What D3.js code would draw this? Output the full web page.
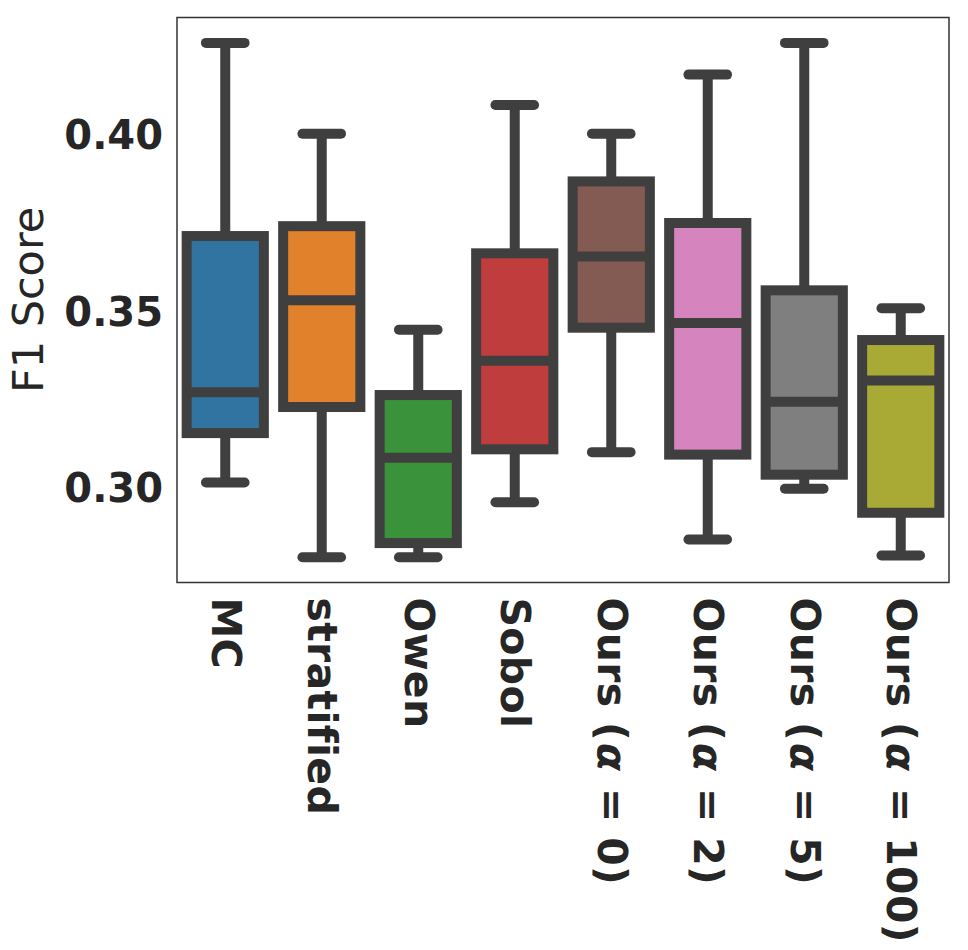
<!DOCTYPE html>
<html>
<head>
<meta charset="utf-8">
<script src="https://cdn.jsdelivr.net/npm/d3@7"></script>
<style>
  html, body { margin: 0; padding: 0; background: #fff; }
  svg { display: block; }
  text { font-family: "DejaVu Sans", sans-serif; fill: #262626; }
</style>
</head>
<body>
<div id="chart"></div>
<script>
// ---- data ----
const categories = ["MC", "stratified", "Owen", "Sobol",
  "Ours (α = 0)", "Ours (α = 2)", "Ours (α = 5)", "Ours (α = 100)"];
const whiskerLow  = [0.3014, 0.2802, 0.2802, 0.2958, 0.3100, 0.2852, 0.2996, 0.2807];
const q1          = [0.3154, 0.3228, 0.2842, 0.3108, 0.3453, 0.3093, 0.3036, 0.2928];
const medians     = [0.3270, 0.3531, 0.3084, 0.3359, 0.3655, 0.3466, 0.3243, 0.3303];
const q3          = [0.3713, 0.3741, 0.3262, 0.3664, 0.3868, 0.3750, 0.3559, 0.3418];
const whiskerHigh = [0.4261, 0.4003, 0.3447, 0.4085, 0.4003, 0.4171, 0.4261, 0.3508];
const boxColors   = ["#3274a1", "#e1812c", "#3a923a", "#c03d3e",
  "#845b53", "#d684bd", "#7f7f7f", "#a9aa35"];
const yTicks = [0.30, 0.35, 0.40];
const yLabel = "F1 Score";

// ---- layout ----
const W = 968, H = 950;
const plot = { left: 177, right: 949, top: 17.5, bottom: 582.5 };
const lineColor = "#3f3f3f";
const lw = 10;

const svg = d3.select("#chart").append("svg")
  .attr("width", W).attr("height", H);

const x = d3.scaleBand().domain(categories)
  .range([plot.left, plot.right]).paddingInner(0).paddingOuter(0);
const y = d3.scaleLinear().domain([0.2733, 0.4333])
  .range([plot.bottom - 1, plot.top]);

const data = categories.map((c, i) => ({
  cat: c, lo: whiskerLow[i], q1: q1[i], med: medians[i], q3: q3[i], hi: whiskerHigh[i], color: boxColors[i]
}));

const boxW = x.bandwidth() * 0.8;
const capW = boxW * 0.5;

const g = svg.append("g");

const box = g.selectAll("g.box").data(data).enter().append("g").attr("class", "box");

// whiskers
box.append("line")
  .attr("x1", d => x(d.cat) + x.bandwidth() / 2).attr("x2", d => x(d.cat) + x.bandwidth() / 2)
  .attr("y1", d => y(d.q3)).attr("y2", d => y(d.hi))
  .attr("stroke", lineColor).attr("stroke-width", lw);
box.append("line")
  .attr("x1", d => x(d.cat) + x.bandwidth() / 2).attr("x2", d => x(d.cat) + x.bandwidth() / 2)
  .attr("y1", d => y(d.q1)).attr("y2", d => y(d.lo))
  .attr("stroke", lineColor).attr("stroke-width", lw);
// caps
["hi", "lo"].forEach(k => {
  box.append("line")
    .attr("x1", d => x(d.cat) + x.bandwidth() / 2 - capW / 2)
    .attr("x2", d => x(d.cat) + x.bandwidth() / 2 + capW / 2)
    .attr("y1", d => y(d[k])).attr("y2", d => y(d[k]))
    .attr("stroke", lineColor).attr("stroke-width", lw)
    .attr("stroke-linecap", "round");
});
// boxes
box.append("rect")
  .attr("x", d => x(d.cat) + (x.bandwidth() - boxW) / 2)
  .attr("width", boxW)
  .attr("y", d => y(d.q3))
  .attr("height", d => y(d.q1) - y(d.q3))
  .attr("fill", d => d.color)
  .attr("stroke", lineColor).attr("stroke-width", lw)
  .attr("stroke-linejoin", "miter");
// medians
box.append("line")
  .attr("x1", d => x(d.cat) + (x.bandwidth() - boxW) / 2)
  .attr("x2", d => x(d.cat) + (x.bandwidth() + boxW) / 2)
  .attr("y1", d => y(d.med)).attr("y2", d => y(d.med))
  .attr("stroke", lineColor).attr("stroke-width", lw);

// frame
svg.append("rect")
  .attr("x", plot.left).attr("y", plot.top)
  .attr("width", plot.right - plot.left).attr("height", plot.bottom - plot.top)
  .attr("fill", "none").attr("stroke", "#333").attr("stroke-width", 1.5);

// y axis (no tick marks)
const yAxis = d3.axisLeft(y).tickValues(yTicks).tickFormat(d3.format(".2f")).tickSize(0).tickPadding(14);
const ya = svg.append("g").attr("transform", `translate(${plot.left},0)`).call(yAxis);
ya.select(".domain").remove();
ya.selectAll("text")
  .attr("font-family", "DejaVu Sans").attr("font-weight", "bold")
  .attr("font-size", 40).attr("fill", "#262626").attr("dy", "0.35em");

// x axis labels (rotated, reading top to bottom)
const xAxis = d3.axisBottom(x).tickSize(0).tickFormat("");
const xa = svg.append("g").attr("transform", `translate(0,${plot.bottom})`).call(xAxis);
xa.select(".domain").remove();
xa.selectAll(".tick").each(function(c) {
  const t = d3.select(this).append("text")
    .attr("transform", "translate(0,15) rotate(90)")
    .attr("x", 0).attr("y", 0).attr("dy", "0.33em")
    .attr("text-anchor", "start")
    .attr("font-family", "DejaVu Sans").attr("font-weight", "bold")
    .attr("font-size", 41).attr("letter-spacing", 0.3).attr("fill", "#262626");
  const parts = c.split("α");
  parts.forEach((p, i) => {
    if (i > 0) t.append("tspan").attr("font-style", "italic").attr("dx", 2).text("α");
    t.append("tspan").attr("dx", i > 0 ? 2 : 0).text(p);
  });
});

// y label
svg.append("text")
  .attr("transform", `translate(43,${(plot.top + plot.bottom) / 2}) rotate(-90)`)
  .attr("text-anchor", "middle")
  .attr("font-family", "DejaVu Sans").attr("font-size", 43).attr("fill", "#262626")
  .text(yLabel);
</script>
</body>
</html>
